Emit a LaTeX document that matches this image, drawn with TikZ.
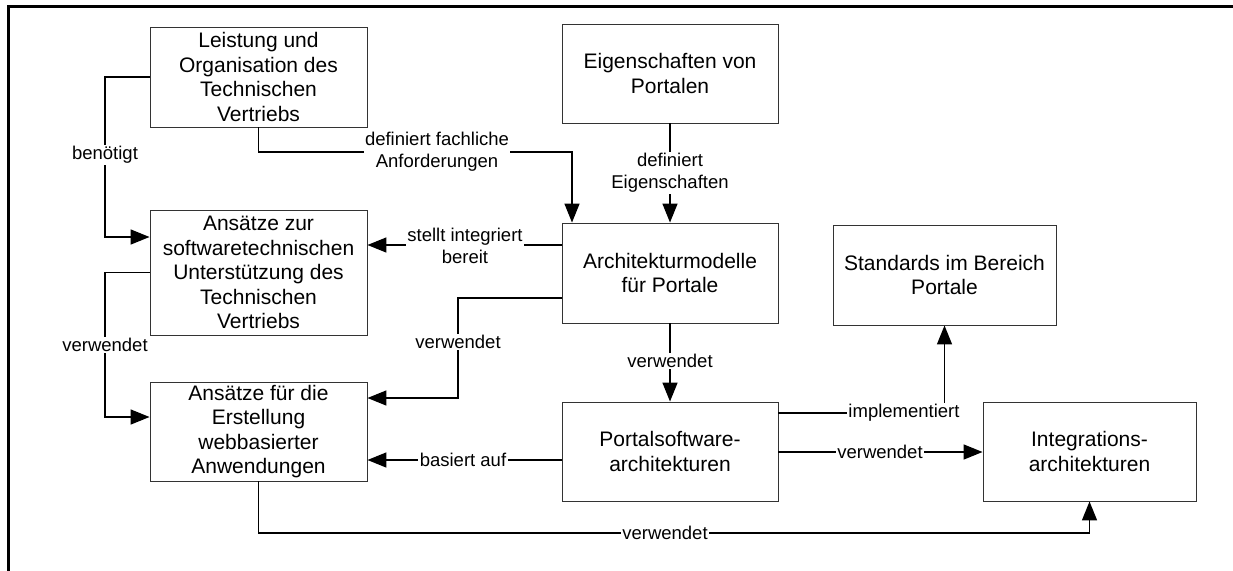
\documentclass[tikz,border=0pt]{standalone}
\usepackage{fontspec}
\setmainfont{Liberation Sans}
\usetikzlibrary{arrows.meta}
\newcommand{\boxfont}{\fontsize{21}{24.5}\selectfont}
\newcommand{\lblfont}{\fontsize{18.5}{22}\selectfont}
\begin{document}
\begin{tikzpicture}[x=1pt,y=-1pt,
  box/.style={draw=black!80, line width=0.9pt, fill=white, align=center,
    font=\boxfont, inner sep=0pt},
  lbl/.style={fill=white, inner sep=1.5pt, align=center, font=\lblfont},
  conn/.style={line width=1.5pt, line join=miter},
  arr/.style={conn, -{Triangle[length=19pt,width=15pt]}}]
\useasboundingbox (0,0) rectangle (1233,570);

% outer frame (top and left edges), running off the page
\begin{scope}
\clip (0,0) rectangle (1233,570);
\draw[line width=3pt] (8,580) -- (8,6.5) -- (1245,6.5);
\end{scope}

% boxes
\node[box, minimum width=217pt, minimum height=100pt] (A) at (258.5,77)
  {Leistung und\\Organisation des\\Technischen\\Vertriebs};
\node[box, minimum width=217pt, minimum height=125pt] (B) at (258.5,272.5)
  {Ansätze zur\\softwaretechnischen\\Unterstützung des\\Technischen\\Vertriebs};
\node[box, minimum width=217pt, minimum height=99pt] (C) at (258.5,431.5)
  {Ansätze für die\\Erstellung\\webbasierter\\Anwendungen};
\node[box, minimum width=216pt, minimum height=99pt] (D) at (670,73.5)
  {Eigenschaften von\\Portalen};
\node[box, minimum width=216pt, minimum height=100pt] (E) at (670,273)
  {Architekturmodelle\\für Portale};
\node[box, minimum width=216pt, minimum height=99pt] (F) at (670,451.5)
  {Portalsoftware-\\architekturen};
\node[box, minimum width=223pt, minimum height=100pt] (G) at (944.5,275)
  {Standards im Bereich\\Portale};
\node[box, minimum width=213pt, minimum height=99pt] (H) at (1089.5,451.5)
  {Integrations-\\architekturen};

% helper levels for connector routing
\coordinate (yBa) at (0,237);
\coordinate (yCa) at (0,417);
\coordinate (yAn) at (0,152);
\coordinate (yStell) at (0,245);
\coordinate (yUse) at (0,298);
\coordinate (yCb) at (0,398);
\coordinate (yBas) at (0,460);
\coordinate (yImp) at (0,413);
\coordinate (yInt) at (0,452);
\coordinate (yBot) at (0,533);
\coordinate (xL) at (105,0);
\coordinate (xM) at (458,0);
\coordinate (xDef) at (572,0);

% connectors
\draw[arr] (A.west) -- (A.west -| xL) |- (B.west |- yBa);
\draw[arr] (B.west) -- (B.west -| xL) |- (C.west |- yCa);
\draw[arr] (A.south) -- (A.south |- yAn) -- (xDef |- yAn) -- (xDef |- E.north);
\draw[arr] (D.south) -- (E.north);
\draw[arr] (E.west |- yStell) -- (B.east |- yStell);
\draw[arr] (E.west |- yUse) -- (xM |- yUse) -- (xM |- yCb) -- (C.east |- yCb);
\draw[arr] (E.south) -- (F.north);
\draw[arr] (F.west |- yBas) -- (C.east |- yBas);
\draw[arr] (F.east |- yImp) -| (G.south);
\draw[arr] (F.east |- yInt) -- (H.west |- yInt);
\draw[arr] (C.south) -- (C.south |- yBot) -| (H.south);

% connector labels
\node[lbl] (l1) at (105,155) {benötigt};
\node[lbl] (l2) at (105,345) {verwendet};
\node[lbl] (l3) at (437,152) {definiert fachliche\\Anforderungen};
\node[lbl] (l4) at (670,173) {definiert\\Eigenschaften};
\node[lbl] (l5) at (465,246) {stellt integriert\\bereit};
\node[lbl] (l6) at (458,342) {verwendet};
\node[lbl] (l7) at (670,361) {verwendet};
\node[lbl] (l8) at (463,460) {basiert auf};
\node[lbl] (l9) at (904,413) {implementiert};
\node[lbl] (l10) at (880,452) {verwendet};
\node[lbl] (l11) at (665,533) {verwendet};
\end{tikzpicture}
\end{document}
